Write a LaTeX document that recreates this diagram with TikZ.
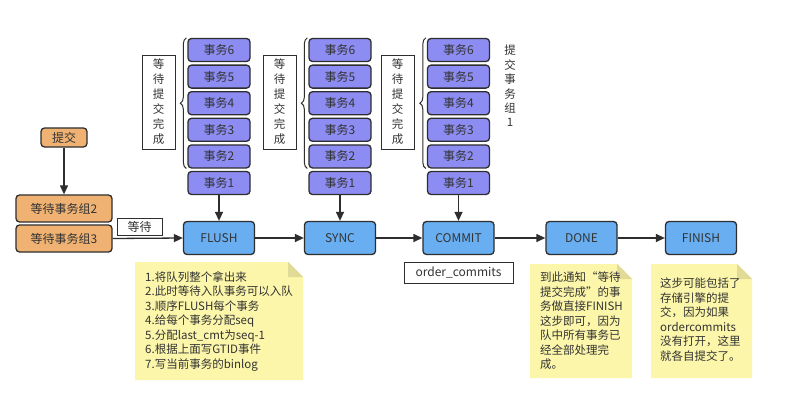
\documentclass[tikz,border=0pt]{standalone}
\usepackage{fontspec}
\setmainfont{Noto Sans CJK SC}
\usetikzlibrary{arrows.meta,decorations.pathreplacing}
\definecolor{dark}{HTML}{2E2E2E}
\definecolor{txt}{HTML}{333333}
\definecolor{bluef}{HTML}{68AEF0}
\definecolor{purp}{HTML}{8C8CF2}
\definecolor{orangef}{HTML}{F0B272}
\definecolor{notey}{HTML}{FCF6AA}
\definecolor{notefold}{HTML}{E2DB98}
\tikzset{
  box/.style={rounded corners=3.5pt, draw=dark, line width=1.3pt, text=txt,
    font=\fontsize{12}{14}\selectfont, inner sep=0pt},
  stepbox/.style={box, fill=bluef, minimum width=71pt, minimum height=33pt},
  txbox/.style={box, fill=purp, minimum width=62pt, minimum height=23pt},
  orbox/.style={box, fill=orangef},
  lblbox/.style={draw=dark, line width=1pt, fill=white, text=txt, inner sep=0pt,
    font=\fontsize{11.5}{15}\selectfont, align=center},
  notetext/.style={text=txt, inner sep=0pt, align=left, anchor=north west,
    font=\fontsize{11.5}{14.5}\selectfont},
  arr/.style={draw=dark, line width=1.3pt, -{Triangle[length=9pt,width=8pt]}},
  br/.style={draw=dark, line width=1pt, decorate,
    decoration={brace, amplitude=6pt, aspect=0.5}},
}
\newcommand{\notebg}[4]{%
  \fill[notey] (#1,#2) -- ({#3-15},#2) -- (#3,{#2+15}) -- (#3,#4) -- (#1,#4) -- cycle;
  \fill[notefold] ({#3-15},#2) -- ({#3-15},{#2+15}) -- (#3,{#2+15}) -- cycle;}
\begin{document}
\begin{tikzpicture}[x=1pt,y=-1pt]
\useasboundingbox[fill=white] (0,0) rectangle (787,415);

% main steps
\node[stepbox] (flush) at (219,238) {FLUSH};
\node[stepbox] (sync) at (340,238) {SYNC};
\node[stepbox] (commit) at (458.5,238) {COMMIT};
\node[stepbox] (done) at (581.5,238) {DONE};
\node[stepbox] (finish) at (701,238) {FINISH};

% transaction stacks
\foreach \nm/\cx in {f/219, s/340, c/458.5}{
  \foreach \k/\cy in {6/50, 5/76.6, 4/103.2, 3/129.8, 2/156.4, 1/183}{
    \node[txbox] (\nm tx\k) at (\cx,\cy) {事务\k};
  }
}

% braces
\draw[br] ([xshift=-1pt]ftx2.south west) -- ([xshift=-1pt]ftx6.north west);
\draw[br] ([xshift=-1pt]stx2.south west) -- ([xshift=-1pt]stx6.north west);
\draw[br] ([xshift=-1pt]ctx2.south west) -- ([xshift=-1pt]ctx6.north west);

% brace labels
\node[lblbox, minimum width=33pt, minimum height=94pt] (lf) at (158.5,102) {等\\待\\提\\交\\完\\成};
\node[lblbox, minimum width=33pt, minimum height=94pt] (ls) at (279.5,102) {等\\待\\提\\交\\完\\成};
\node[lblbox, minimum width=33pt, minimum height=94pt] (lc) at (397.5,102) {等\\待\\提\\交\\完\\成};
\node[text=txt, inner sep=0pt, align=center, font=\fontsize{11.5}{14.4}\selectfont] (grp1) at (510,86) {提\\交\\事\\务\\组\\1};

% left side
\node[orbox, minimum width=46pt, minimum height=19pt] (submit) at (64,137.5) {提交};
\node[orbox, minimum width=96pt, minimum height=27pt] (wg2) at (64,208.5) {等待事务组2};
\node[orbox, minimum width=96pt, minimum height=27pt] (wg3) at (64,238.5) {等待事务组3};
\node[lblbox, font=\fontsize{12}{14}\selectfont, minimum width=45pt, minimum height=17pt] (wait) at (139.5,226.5) {等待};
\node[lblbox, font=\fontsize{12}{14}\selectfont, minimum width=109pt, minimum height=21pt] (oc) at (458.5,272.5) {order\_commits};

% arrows
\draw[arr] (submit) -- (wg2);
\draw[arr] (wg3.east) -- (flush.west);
\draw[arr] (ftx1) -- (flush);
\draw[arr] (stx1) -- (sync);
\draw[arr] (ctx1) -- (commit);
\draw[arr] (flush) -- (sync);
\draw[arr] (sync) -- (commit);
\draw[arr] (commit) -- (done);
\draw[arr] (done) -- (finish);

% notes
\notebg{135}{262}{303}{380}
\node[notetext] (nflush) at (145,271) {1.将队列整个拿出来\\2.此时等待入队事务可以入队\\3.顺序FLUSH每个事务\\4.给每个事务分配seq\\5.分配last\_cmt为seq-1\\6.根据上面写GTID事件\\7.写当前事务的binlog};
\notebg{530}{264}{632}{378}
\node[notetext] (ndone) at (540,272) {到此通知“等待\\提交完成”的事\\务做直接FINISH\\这步即可，因为\\队中所有事务已\\经全部处理完\\成。};
\notebg{651}{264}{752}{378}
\node[notetext] (nfinish) at (660,278) {这步可能包括了\\存储引擎的提\\交，因为如果\\ordercommits\\没有打开，这里\\就各自提交了。};
\end{tikzpicture}
\end{document}
